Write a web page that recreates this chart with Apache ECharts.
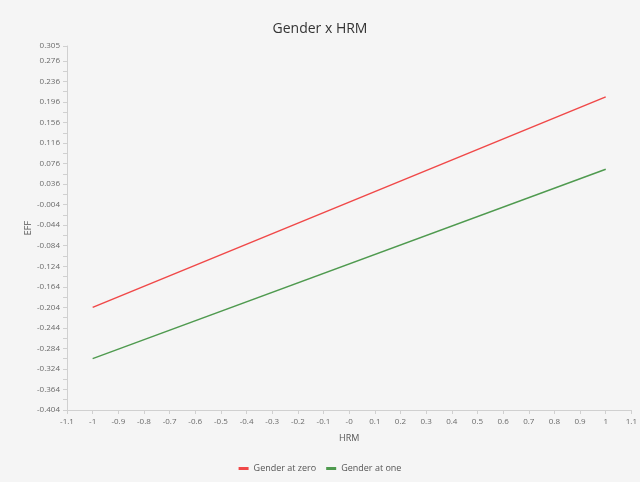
<!DOCTYPE html>
<html>
<head>
<meta charset="utf-8">
<script src="https://cdn.jsdelivr.net/npm/echarts@6/dist/echarts.min.js"></script>
<style>
html,body{margin:0;padding:0;background:#f5f5f5;}
#c{width:640px;height:482px;}
</style>
</head>
<body>
<div id="c"></div>
<script>
const xValues = [-1, 1];
const zeroValues = [-0.204, 0.206];
const oneValues = [-0.304, 0.065];
const seriesNames = ['Gender at zero', 'Gender at one'];
const yMajorTicks = [-0.404, -0.364, -0.324, -0.284, -0.244, -0.204, -0.164, -0.124, -0.084, -0.044, -0.004, 0.036, 0.076, 0.116, 0.156, 0.196, 0.236, 0.276, 0.305];
const yMinorTicks = [-0.384, -0.344, -0.304, -0.264, -0.224, -0.184, -0.144, -0.104, -0.064, -0.024, 0.016, 0.056, 0.096, 0.136, 0.176, 0.216, 0.256];
const xTicks = [-1.1, -1, -0.9, -0.8, -0.7, -0.6, -0.5, -0.4, -0.3, -0.2, -0.1, 0, 0.1, 0.2, 0.3, 0.4, 0.5, 0.6, 0.7, 0.8, 0.9, 1, 1.1];

const chart = echarts.init(document.getElementById('c'), null, {renderer: 'canvas'});
const font = "'Open Sans', 'Noto Sans', sans-serif";
const axisColor = '#d0d0d0';
const labelColor = '#6a6a6a';
chart.setOption({
  backgroundColor: '#f5f5f5',
  animation: false,
  textStyle: {fontFamily: font},
  title: {
    text: 'Gender x HRM', left: 'center', top: 17,
    textStyle: {fontSize: 14, fontWeight: 'normal', color: '#333', fontFamily: font}
  },
  legend: {
    bottom: 4, left: 'center', itemWidth: 10, itemHeight: 3, itemGap: 10,
    icon: 'rect',
    textStyle: {fontSize: 9, color: '#555', fontFamily: font},
    data: seriesNames
  },
  grid: {left: 67, right: 6, top: 46, bottom: 72, containLabel: false},
  xAxis: {
    type: 'value', min: -1.1, max: 1.1,
    name: 'HRM', nameLocation: 'middle', nameGap: 24,
    nameTextStyle: {fontSize: 9, color: '#555', fontFamily: font},
    axisLine: {show: true, onZero: false, lineStyle: {color: axisColor}},
    axisTick: {show: true, customValues: xTicks, length: 4, lineStyle: {color: axisColor}},
    axisLabel: {
      customValues: xTicks, fontSize: 8, color: labelColor, margin: 8, fontFamily: font,
      formatter: v => { const k = Math.round(v * 10); return k === 0 ? '-0' : String(k / 10); }
    },
    splitLine: {show: false}
  },
  yAxis: {
    type: 'value', min: -0.404, max: 0.305,
    name: 'EFF', nameLocation: 'middle', nameGap: 34, nameRotate: 90, nameMoveOverlap: false,
    nameTextStyle: {fontSize: 9, color: '#555', fontFamily: font},
    axisLine: {show: true, onZero: false, lineStyle: {color: axisColor}},
    axisTick: {show: true, customValues: yMajorTicks.concat(yMinorTicks), length: 4, lineStyle: {color: axisColor}},
    axisLabel: {
      customValues: yMajorTicks, fontSize: 8, color: labelColor, margin: 7, fontFamily: font,
      formatter: v => v.toFixed(3)
    },
    splitLine: {show: false}
  },
  series: [
    {
      name: seriesNames[0], type: 'line', symbol: 'none',
      data: xValues.map((x, i) => [x, zeroValues[i]]),
      lineStyle: {color: '#f04848', width: 1.5}, itemStyle: {color: '#f04848'}
    },
    {
      name: seriesNames[1], type: 'line', symbol: 'none',
      data: xValues.map((x, i) => [x, oneValues[i]]),
      lineStyle: {color: '#4f9a4f', width: 1.5}, itemStyle: {color: '#4f9a4f'}
    }
  ]
});
</script>
</body>
</html>
